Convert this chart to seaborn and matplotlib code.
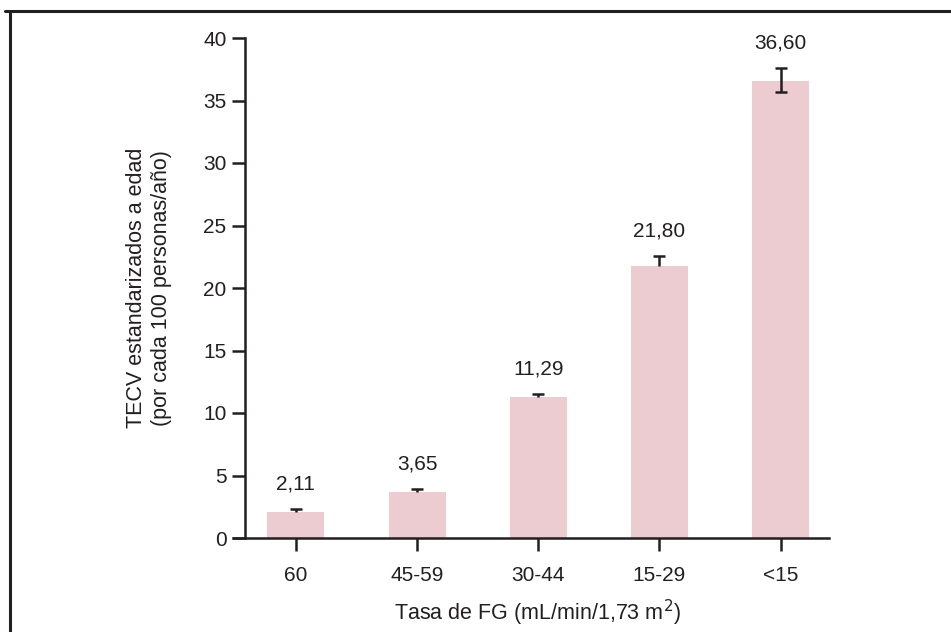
import matplotlib
matplotlib.use("Agg")
import matplotlib.pyplot as plt
import seaborn as sns
import pandas as pd
import numpy as np
from matplotlib.lines import Line2D

categories = ["60", "45-59", "30-44", "15-29", "<15"]
values = [2.11, 3.65, 11.29, 21.80, 36.60]
err_low = [0.0, 0.0, 0.0, 0.0, 0.9]
err_high = [0.25, 0.25, 0.25, 0.8, 1.0]
value_labels = ["2,11", "3,65", "11,29", "21,80", "36,60"]
y_ticks = [0, 5, 10, 15, 20, 25, 30, 35, 40]

sns.set_theme(style="white")
plt.rcParams["font.family"] = ["Liberation Sans", "DejaVu Sans"]
DARK = "#231f20"
PINK = "#ecccd0"
FS = 15
FSL = 15.5

df = pd.DataFrame({"cat": categories, "val": values})

fig = plt.figure(figsize=(9.51, 6.32), dpi=100)
ax = fig.add_axes([245 / 951, 1 - 538 / 632, (829 - 245) / 951, (538 - 38) / 632])

sns.barplot(data=df, x="cat", y="val", order=categories, color=PINK,
            saturation=1, width=0.47, ax=ax, zorder=2, errorbar=None)
for p in ax.patches:
    p.set_edgecolor("none")

xs = np.arange(len(categories))
vals = np.array(values)
lo = vals - np.array(err_low)
hi = vals + np.array(err_high)
ax.vlines(xs, lo, hi, color=DARK, lw=1.8, zorder=3)
ax.plot(xs, hi, ls="none", marker="_", ms=9, mew=1.8, color=DARK, zorder=3)
mask = np.array(err_low) > 0
ax.plot(xs[mask], lo[mask], ls="none", marker="_", ms=9, mew=1.8, color=DARK, zorder=3)

for x, h, lab in zip(xs, hi, value_labels):
    ax.annotate(lab, (x, h), xytext=(0, 14), textcoords="offset points",
                ha="center", va="baseline", fontsize=FS, color=DARK)

ax.set_xlim(-0.42, 4.40)
ax.set_ylim(0, 40)
ax.set_yticks(y_ticks)
ax.set_yticklabels([str(t) for t in y_ticks])

for s in ["top", "right"]:
    ax.spines[s].set_visible(False)
for s in ["left", "bottom"]:
    ax.spines[s].set_color(DARK)
    ax.spines[s].set_linewidth(1.8)
ax.spines["bottom"].set_zorder(4)

ax.tick_params(axis="both", direction="out", length=9.4, width=1.8, color=DARK,
               labelsize=FS, labelcolor=DARK, left=True, bottom=True)
ax.tick_params(axis="y", pad=4)
ax.tick_params(axis="x", pad=11)

# extend baseline left to meet the 0 tick
ax.plot([-0.42 - 13 / 121, -0.42], [0, 0], color=DARK, lw=1.8, clip_on=False,
        solid_capstyle="butt", zorder=4)

ax.set_xlabel("Tasa de FG (mL/min/1,73 m$^2$)", fontsize=FSL, color=DARK, labelpad=9)
ax.set_ylabel("TECV estandarizados a edad\n(por cada 100 personas/año)",
              fontsize=FSL, color=DARK, labelpad=22, linespacing=1.3)

# outer frame (top and left)
fig.add_artist(Line2D([5 / 951, 1], [1 - 10.5 / 632, 1 - 10.5 / 632], color=DARK, lw=2.2,
                      transform=fig.transFigure))
fig.add_artist(Line2D([9.5 / 951, 9.5 / 951], [0, 1 - 10.5 / 632], color=DARK, lw=2.2,
                      transform=fig.transFigure))

fig.savefig("out.png", dpi=100, facecolor="white")
